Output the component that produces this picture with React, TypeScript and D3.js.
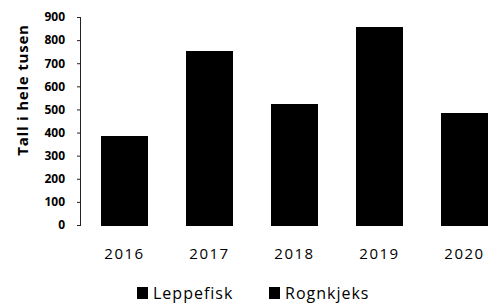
import React, { useEffect, useRef } from "react";
import * as d3 from "d3";

// Stacked bars, both series drawn in black (as in the original figure)
const years = ["2016", "2017", "2018", "2019", "2020"];
const leppefisk = [277, 490, 300, 560, 300];
const rognkjeks = [109, 263, 225, 295, 185];
const seriesNames = ["Leppefisk", "Rognkjeks"];
const seriesColors = ["#000000", "#000000"];
const yTicks = [0, 100, 200, 300, 400, 500, 600, 700, 800, 900];

function App() {
    const ref = useRef<SVGSVGElement | null>(null);

    useEffect(() => {
        const width = 492, height = 304;
        const svg = d3.select(ref.current);
        svg.selectAll("*").remove();

        const font = "'Open Sans', sans-serif";

        // x scale goes a bit past the right edge, the original is cropped there
        const x = d3.scaleBand()
            .domain(years)
            .range([82, 507])
            .paddingInner(0.45)
            .paddingOuter(0.225);

        const y = d3.scaleLinear()
            .domain([0, 900])
            .range([225, 17]);

        const rows = years.map((yr, i) => ({ year: yr, Leppefisk: leppefisk[i], Rognkjeks: rognkjeks[i] }));
        const stacked = d3.stack<any>().keys(seriesNames)(rows);

        svg.append("g")
            .attr("shape-rendering", "crispEdges")
            .selectAll("g")
            .data(stacked)
            .join("g")
                .attr("fill", (d, i) => seriesColors[i])
            .selectAll("rect")
            .data(d => d)
            .join("rect")
                .attr("x", d => x(d.data.year)!)
                .attr("y", d => y(d[1]))
                .attr("width", x.bandwidth())
                .attr("height", d => y(d[0]) - y(d[1]) + 0.5);

        // Y axis
        const yAxis = svg.append("g")
            .attr("transform", "translate(81,0)")
            .call(d3.axisLeft(y).tickValues(yTicks).tickSize(4).tickPadding(12));
        yAxis.select(".domain").attr("stroke", "#222").attr("d", `M-0.5,${y(900)}V${y(0)}`);
        yAxis.selectAll(".tick line").attr("stroke", "#222");
        yAxis.selectAll(".tick text")
            .attr("font-family", font)
            .attr("font-weight", "bold")
            .attr("font-size", 12)
            .attr("fill", "#000");

        // X labels
        svg.append("g")
            .selectAll("text")
            .data(years)
            .join("text")
                .attr("x", d => x(d)! + x.bandwidth() / 2)
                .attr("y", 259)
                .attr("text-anchor", "middle")
                .attr("font-family", font)
                .attr("font-size", 15)
                .attr("letter-spacing", 1.5)
                .text(d => d);

        // Y axis title
        svg.append("text")
            .attr("transform", "translate(28,90) rotate(-90)")
            .attr("text-anchor", "middle")
            .attr("font-family", font)
            .attr("font-weight", "bold")
            .attr("font-size", 15)
            .attr("letter-spacing", 0.8)
            .text("Tall i hele tusen");

        // Legend
        const legendX = [137, 269];
        const legend = svg.append("g")
            .selectAll("g")
            .data(seriesNames)
            .join("g")
                .attr("transform", (d, i) => `translate(${legendX[i]},287)`);
        legend.append("rect")
            .attr("width", 11)
            .attr("height", 12)
            .attr("fill", (d, i) => seriesColors[i]);
        legend.append("text")
            .attr("x", 16)
            .attr("y", 12)
            .attr("font-family", font)
            .attr("font-size", 16)
            .attr("letter-spacing", 1)
            .text(d => d);

        svg.attr("width", width).attr("height", height);
    }, []);

    return (
        <div>
            <style>{"body{margin:0}"}</style>
            <svg ref={ref} width={492} height={304} style={{ display: "block", background: "#fff" }} />
        </div>
    );
}

export default App;
